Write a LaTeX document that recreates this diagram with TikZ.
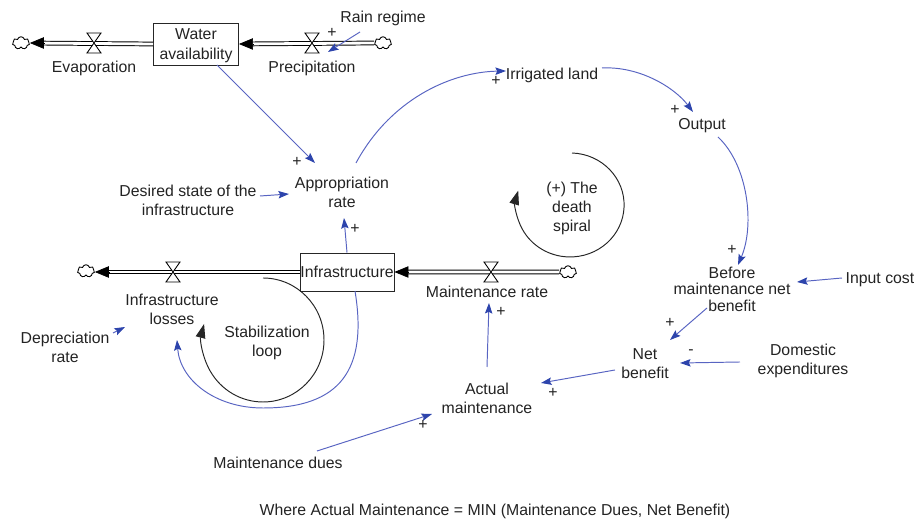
\documentclass[tikz,border=0pt]{standalone}
\usepackage{fontspec}
\setmainfont{Liberation Sans}
\usetikzlibrary{arrows.meta,shapes.symbols,calc}
\definecolor{linkc}{RGB}{88,100,194}
\definecolor{headc}{RGB}{45,68,172}
\definecolor{txt}{RGB}{35,35,35}
\tikzset{
 lbl/.style={font=\fontsize{9}{10.8}\selectfont, text=txt, align=center, inner sep=1pt},
 sgn/.style={font=\fontsize{9}{10}\selectfont, text=txt, inner sep=0pt},
 stock/.style={draw=black!85, line width=0.5pt, font=\fontsize{9}{11.4}\selectfont, text=txt, align=center, inner sep=0pt, text depth=0pt},
 link/.style={draw=linkc, line width=0.55pt, -{Stealth[length=6pt,width=4.2pt,inset=1pt,color=headc]}},
 pipe/.style={draw, line width=0.55pt, double=white, double distance=1.6pt, shorten >=7pt},
 flowhead/.style={line width=0.4pt, -{Triangle[length=8pt,width=6.5pt]}},
 cloudn/.style={cloud, draw, cloud puffs=7, aspect=1.4, minimum width=0.34cm, minimum height=0.25cm, inner sep=0pt, fill=white, line width=0.5pt},
 loopline/.style={draw=black!85, line width=0.55pt, -{Triangle[length=8pt,width=5.5pt]}},
 valve/.pic={\draw[fill=white,line width=0.5pt] (-7,-10)--(7,-10)--(-7,10)--(7,10)--cycle;}
}
\begin{document}
\begin{tikzpicture}[x=0.02cm, y=-0.02cm]
\useasboundingbox (0,0) rectangle (914,519);

% stocks and flows
\node[stock, minimum width=1.7cm, minimum height=0.84cm] (wa) at (196,44) {Water\\availability};
\node[stock, minimum width=1.88cm, minimum height=0.76cm] (inf) at (347,272) {Infrastructure};
\node[cloudn] (cl1) at (21,43) {};
\node[cloudn] (cl2) at (383,43) {};
\node[cloudn] (cl3) at (568,272) {};
\node[cloudn] (cl4) at (86,271) {};
\draw[pipe] (wa.west) -- (cl1.east);
\draw[flowhead] ($(cl1.east)+(14,0)$) -- (cl1.east);
\draw[pipe] (cl2.west) -- (wa.east);
\draw[flowhead] ($(wa.east)+(14,0)$) -- (wa.east);
\draw[pipe] (cl3.west) -- (inf.east);
\draw[flowhead] ($(inf.east)+(14,0)$) -- (inf.east);
\draw[pipe] (inf.west) -- (inf.west -| cl4.east);
\draw[flowhead] ($(inf.west -| cl4.east)+(14,0)$) -- (inf.west -| cl4.east);
\pic at (94,43) {valve};
\pic at (312,43) {valve};
\pic at (491,272) {valve};
\pic at (173,272) {valve};

% labels
\node[lbl] (evap) at (94,68) {Evaporation};
\node[lbl] (prec) at (312,68) {Precipitation};
\node[lbl] (rain) at (383,18) {Rain regime};
\node[lbl] (app) at (342,192) {Appropriation\\rate};
\node[lbl] (des) at (188,200) {Desired state of the\\infrastructure};
\node[lbl] (irr) at (552,75) {Irrigated land};
\node[lbl] (out) at (702,126) {Output};
\node[lbl, font=\fontsize{9}{9.4}\selectfont] (bm) at (732,289) {Before\\maintenance net\\benefit};
\node[lbl] (inc) at (880,280) {Input cost};
\node[lbl] (net) at (645,364) {Net\\benefit};
\node[lbl] (dom) at (803,361) {Domestic\\expenditures};
\node[lbl] (act) at (487,398) {Actual\\maintenance};
\node[lbl] (mr) at (487,292) {Maintenance rate};
\node[lbl] (il) at (172,309) {Infrastructure\\losses};
\node[lbl] (dep) at (65,347) {Depreciation\\rate};
\node[lbl] (stab) at (267,343) {Stabilization\\loop};
\node[lbl] (ds) at (572,208) {(+) The\\death\\spiral};
\node[lbl] (dues) at (278,463) {Maintenance dues};
\node[lbl] (note) at (495,511) {Where Actual Maintenance = MIN (Maintenance Dues, Net Benefit)};

% causal links
\draw[link] ($(rain)+(-23,14)$) -- ($(prec)+(16,-16)$);
\draw[link] ($(wa)+(21,21)$) -- ($(app)+(-27,-29)$);
\draw[link] ($(des)+(72,-4)$) -- ($(app)+(-53,2)$);
\draw[link] (inf.north) -- ($(app)+(2,26)$);
\draw[link] ($(app)+(14,-29)$) .. controls (390,100) and (450,72) .. ($(irr)+(-46,-4)$);
\draw[link] ($(irr)+(50,-7)$) .. controls (640,66) and (675,88) .. ($(out)+(-9,-14)$);
\draw[link] ($(out)+(16,11)$) .. controls (748,165) and (755,225) .. ($(bm)+(6,-24)$);
\draw[link] ($(inc)+(-38,-2)$) -- ($(bm)+(65,-7)$);
\draw[link] ($(bm)+(-25,19)$) -- ($(net)+(25,-24)$);
\draw[link] ($(dom)+(-63,1)$) -- ($(net)+(35,-1)$);
\draw[link] ($(net)+(-30,6)$) -- ($(act)+(54,-15)$);
\draw[link] ($(act)+(0,-31)$) -- ($(mr)+(2,11)$);
\draw[link] ($(dues)+(39,-12)$) -- ($(act)+(-55,16)$);
\draw[link] ($(dep)+(48,-14)$) -- ($(il)+(-47,18)$);
\draw[link] ($(inf)+(8,19)$) .. controls (368,370) and (340,408) .. (263,408) .. controls (215,408) and (180,380) .. ($(il)+(5,31)$);

% loops
\draw[loopline] (263,278) arc[start angle=-90, end angle=195, x radius=61, y radius=62];
\draw[loopline] (572,153) arc[start angle=-88, end angle=196, x radius=54, y radius=52];

% polarity signs
\node[sgn] (p1) at (332,33) {+};
\node[sgn] (p2) at (297,162) {+};
\node[sgn] (p3) at (355,229) {+};
\node[sgn] (p4) at (496,81) {+};
\node[sgn] (p5) at (675,110) {+};
\node[sgn] (p6) at (732,250) {+};
\node[sgn] (p7) at (670,323) {+};
\node[sgn] (p8) at (691,352) {-};
\node[sgn] (p9) at (553,393) {+};
\node[sgn] (p10) at (501,312) {+};
\node[sgn] (p11) at (423,425) {+};
\end{tikzpicture}
\end{document}
